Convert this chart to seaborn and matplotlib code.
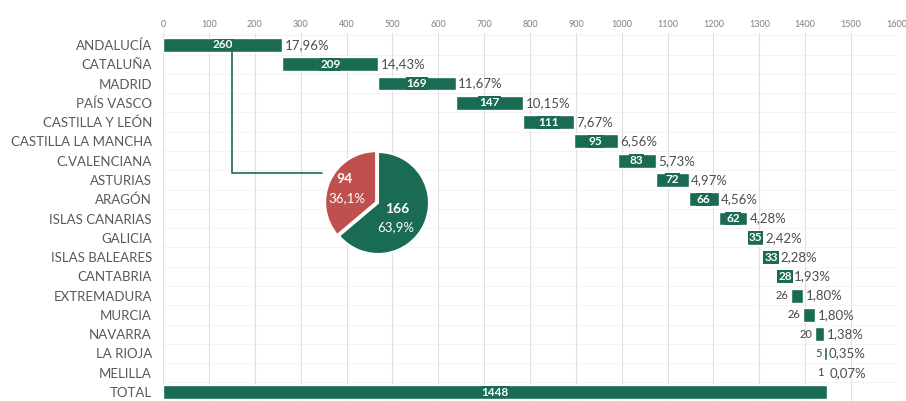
import numpy as np
import pandas as pd
import matplotlib
matplotlib.use("Agg")
import matplotlib.pyplot as plt
import seaborn as sns

regions = ["ANDALUCÍA", "CATALUÑA", "MADRID", "PAÍS VASCO", "CASTILLA Y LEÓN",
           "CASTILLA LA MANCHA", "C.VALENCIANA", "ASTURIAS", "ARAGÓN",
           "ISLAS CANARIAS", "GALICIA", "ISLAS BALEARES", "CANTABRIA",
           "EXTREMADURA", "MURCIA", "NAVARRA", "LA RIOJA", "MELILLA"]
counts = [260, 209, 169, 147, 111, 95, 83, 72, 66, 62, 35, 33, 28, 26, 26, 20, 5, 1]

pie_values = [94, 166]
pie_pcts = ["36,1%", "63,9%"]
pie_colors = ["#c0504d", "#1a6b54"]

x_ticks = list(range(0, 1700, 100))

GREEN = "#1a6b54"
TEXT = "#595959"


def pct(v, total):
    return f"{v / total * 100:.2f}".replace(".", ",") + "%"


def main():
    total = sum(counts)
    starts = np.concatenate([[0], np.cumsum(counts)[:-1]]).tolist() + [0]
    df = pd.DataFrame({"region": regions + ["TOTAL"], "value": counts + [total],
                       "start": starts})

    sns.set_style("white")
    plt.rcParams["font.family"] = ["Lato", "DejaVu Sans"]

    fig = plt.figure(figsize=(9.06, 4.01), dpi=100)
    ax = fig.add_axes([0.18, 0.0007, 0.81, 0.916])

    # faint row lines like the sheet
    for i in range(len(df) + 1):
        ax.axhline(i - 0.5, color="#f2f2f2", lw=0.6, zorder=0)
    for t in x_ticks:
        ax.axvline(t, color="#e0e0e0", lw=0.8, zorder=0)

    sns.barplot(data=df, x="value", y="region", orient="h", color=GREEN,
                width=0.72, saturation=1, ax=ax, zorder=2)

    # shift bars to make the waterfall
    for patch, s in zip(ax.patches, df["start"]):
        patch.set_x(s)

    for i, row in df.iterrows():
        v, s = row["value"], row["start"]
        mid = s + v / 2
        if v >= 28:
            ax.text(mid, i, str(v), color="white", fontsize=8.5, fontweight="bold",
                    ha="center", va="center", zorder=3,
                    bbox=dict(boxstyle="square,pad=0.08", fc=GREEN, ec="none"))
        else:
            ax.text(s - 6, i, str(v), color="#404040", fontsize=8,
                    ha="right", va="center", zorder=3)
        if row["region"] != "TOTAL":
            ax.text(s + v + 5, i, pct(v, total), color="#4d4d4d", fontsize=9.5,
                    ha="left", va="center", zorder=3)

    # connector from Andalucía to the pie
    ax.plot([150, 150, 346], [0.36, 6.62, 6.62], color=GREEN, lw=1.2, zorder=3)

    ax.set_xlim(0, 1600)
    ax.set_ylim(18.45, -0.6)
    ax.set_xticks(x_ticks)
    ax.xaxis.tick_top()
    ax.tick_params(axis="x", length=0, labelsize=6.5, labelcolor="#7f7f7f", pad=3)
    ax.tick_params(axis="y", length=0, labelsize=9.5, labelcolor=TEXT, pad=8)
    ax.set_xlabel("")
    ax.set_ylabel("")
    sns.despine(ax=ax, left=True, bottom=True, top=True, right=True)

    # pie inset
    r_px = 51
    size = r_px * 2.4
    cx, cy = 378, 203
    pax = fig.add_axes([(cx - size / 2) / 906, 1 - (cy + size / 2) / 401,
                        size / 906, size / 401])
    pax.pie(pie_values, colors=pie_colors, startangle=90, counterclock=True,
            explode=[0.04, 0], radius=1.0,
            wedgeprops=dict(edgecolor="white", linewidth=1.5))
    pax.set_xlim(-1.2, 1.2)
    pax.set_ylim(-1.2, 1.2)
    pax.set_aspect("equal")
    pax.text(-0.66, 0.48, str(pie_values[0]), color="white", fontsize=10,
             fontweight="bold", ha="center", va="center")
    pax.text(-0.62, 0.1, pie_pcts[0], color="white", fontsize=9.5,
             ha="center", va="center")
    pax.text(0.37, -0.12, str(pie_values[1]), color="white", fontsize=10,
             fontweight="bold", ha="center", va="center")
    pax.text(0.34, -0.48, pie_pcts[1], color="white", fontsize=9.5,
             ha="center", va="center")

    fig.savefig("out.png", dpi=100)


if __name__ == "__main__":
    main()
